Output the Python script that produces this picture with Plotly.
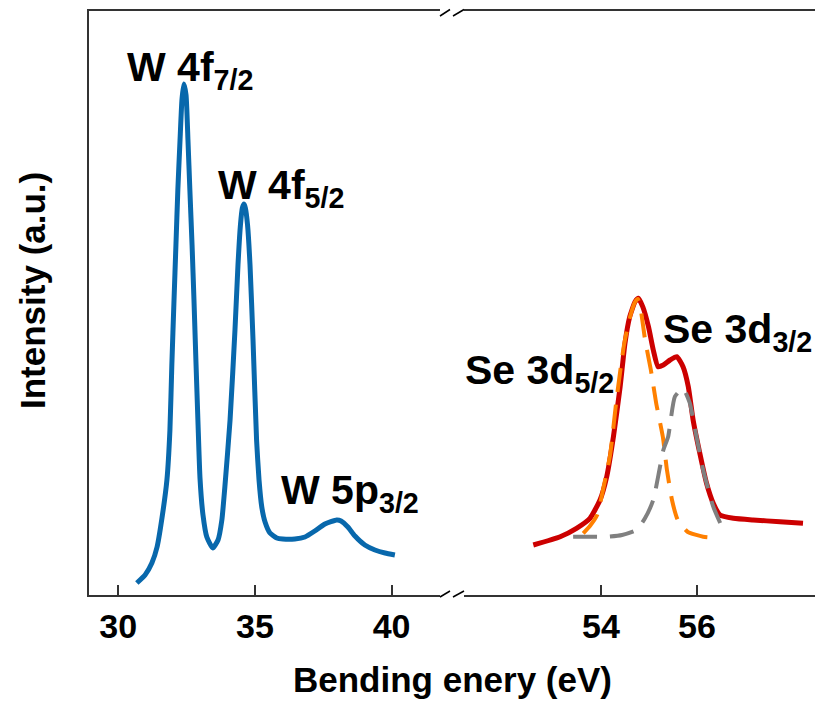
import plotly.graph_objects as go

# W 4f / 5p region (left panel)
w_energy = [30.68, 30.98, 31.23, 31.42, 31.60, 31.78, 31.89, 31.96, 32.04, 32.11,
            32.18, 32.26, 32.33, 32.40, 32.48, 32.55, 32.62, 32.70, 32.77, 32.84,
            32.92, 32.99, 33.10, 33.24, 33.46, 33.65, 33.79, 33.90, 34.09, 34.27,
            34.38, 34.47, 34.54, 34.60, 34.65, 34.73, 34.82, 34.93, 35.06, 35.15,
            35.25, 35.37, 35.55, 35.80, 36.02, 36.46, 36.83, 37.19, 37.56, 37.99,
            38.15, 38.40, 38.66, 39.02, 39.39, 39.76, 40.12]
w_intensity = [2.05, 3.42, 5.48, 8.22, 13.20, 19.69, 28.25, 39.38, 50.51, 59.93,
               69.35, 77.91, 84.76, 87.50, 85.62, 77.91, 69.35, 59.93, 50.51, 40.24,
               29.11, 20.03, 13.70, 9.93, 8.05, 9.42, 12.84, 18.50, 29.97, 45.38,
               56.51, 63.36, 66.27, 66.95, 66.27, 63.36, 56.51, 43.66, 26.54, 19.69,
               15.07, 12.50, 10.62, 9.76, 9.59, 9.59, 9.93, 10.96, 12.16, 12.84,
               12.67, 11.64, 10.10, 8.56, 7.71, 7.19, 6.85]

# Se 3d envelope (right panel)
se_energy = [52.59, 53.15, 53.49, 53.77, 53.98, 54.12, 54.26, 54.40, 54.50, 54.60,
             54.71, 54.78, 54.87, 54.99, 55.09, 55.19, 55.30, 55.44, 55.58, 55.71,
             55.82, 55.92, 56.06, 56.20, 56.34, 56.48, 56.76, 57.17, 57.73, 58.21]
se_intensity = [8.56, 9.98, 11.42, 13.13, 16.27, 20.26, 27.11, 35.67, 43.10, 47.65,
                50.22, 50.80, 49.37, 45.94, 41.95, 39.09, 39.38, 40.24, 40.80, 39.09,
                35.67, 29.97, 24.26, 19.13, 15.70, 13.70, 13.13, 12.84, 12.55, 12.28]

# Se 3d5/2 fitted component
se52_energy = [53.63, 53.77, 53.92, 54.06, 54.19, 54.33, 54.48, 54.60, 54.71, 54.77,
               54.83, 54.92, 55.04, 55.15, 55.29, 55.375, 55.48, 55.60, 55.81, 56.13,
               56.48]
se52_intensity = [10.56, 11.82, 13.70, 18.66, 23.97, 33.90, 42.81, 47.43, 50.17, 50.68,
                  48.80, 43.66, 38.53, 32.88, 27.05, 21.40, 16.27, 12.84, 10.79, 9.98,
                  9.76]

# Se 3d3/2 fitted component
se32_energy = [53.42, 53.77, 54.15, 54.44, 54.74, 54.92, 55.09, 55.30, 55.40, 55.54,
               55.71, 55.85, 55.99, 56.13, 56.34, 56.55]
se32_intensity = [9.98, 9.98, 9.98, 10.27, 11.13, 13.18, 16.27, 24.83, 27.11, 33.96,
                  35.39, 32.88, 27.11, 21.40, 15.12, 11.13]

left_ticks = [30, 35, 40]
right_ticks = [54, 56]

FONT = "Liberation Sans, Arial, sans-serif"
AXIS_COLOR = "#333333"

fig = go.Figure()
fig.add_trace(go.Scatter(x=w_energy, y=w_intensity, mode="lines",
                         line=dict(color="#0868AC", width=5, shape="spline",
                                   smoothing=0.5),
                         xaxis="x", yaxis="y", showlegend=False))
fig.add_trace(go.Scatter(x=se_energy, y=se_intensity, mode="lines",
                         line=dict(color="#CC0000", width=5, shape="spline",
                                   smoothing=0.5),
                         xaxis="x2", yaxis="y", showlegend=False))
fig.add_trace(go.Scatter(x=se52_energy, y=se52_intensity, mode="lines",
                         line=dict(color="#FF8000", width=4, dash="24px,13px",
                                   shape="spline", smoothing=0.5),
                         xaxis="x2", yaxis="y", showlegend=False))
fig.add_trace(go.Scatter(x=se32_energy, y=se32_intensity, mode="lines",
                         line=dict(color="#808080", width=4, dash="24px,13px",
                                   shape="spline", smoothing=0.5),
                         xaxis="x2", yaxis="y", showlegend=False))

W, H = 815, 705
ML, MR, MT, MB = 89, 0, 11, 110
PW, PH = W - ML - MR, H - MT - MB


def px(xp):
    return (xp - ML) / PW


def py(yp):
    return (H - MB - yp) / PH


axis_common = dict(
    showgrid=False, zeroline=False, showline=True, linecolor=AXIS_COLOR,
    linewidth=2, mirror=True, ticks="inside", ticklen=10, tickwidth=1.5,
    tickcolor=AXIS_COLOR,
    tickfont=dict(family=FONT, size=34, color="black", weight="bold"),
)

fig.update_layout(
    width=W, height=H,
    margin=dict(l=ML, r=MR, t=MT, b=MB),
    paper_bgcolor="white", plot_bgcolor="white",
    xaxis=dict(domain=[0, px(440)], range=[28.93, 41.77],
               tickvals=left_ticks, anchor="y", **axis_common),
    xaxis2=dict(domain=[px(464), 1], range=[51.146, 58.46],
                tickvals=right_ticks, anchor="y", **axis_common),
    yaxis=dict(domain=[0, 1], range=[0, 100], showticklabels=False, ticks="",
               showgrid=False, zeroline=False, showline=True,
               linecolor=AXIS_COLOR, linewidth=2, anchor="x"),
)

# axis break marks
for y0, y1 in [(py(16), py(9.5)), (py(597), py(591))]:
    for xa, xb in [(440, 450), (453, 464)]:
        fig.add_shape(type="line", xref="paper", yref="paper",
                      x0=px(xa), x1=px(xb), y0=y0, y1=y1,
                      line=dict(color="black", width=1.5))

label_font = dict(family=FONT, size=41, color="black", weight="bold")
peak_labels = [
    ("W 4f<sub>7/2</sub>", 189.5, 69.5),
    ("W 4f<sub>5/2</sub>", 281, 188),
    ("W 5p<sub>3/2</sub>", 350, 493),
    ("Se 3d<sub>5/2</sub>", 539, 373),
    ("Se 3d<sub>3/2</sub>", 737.5, 332),
]
for text, xc, yc in peak_labels:
    fig.add_annotation(text=text, xref="paper", yref="paper", x=px(xc), y=py(yc),
                       xanchor="center", yanchor="middle", showarrow=False,
                       font=label_font)

title_font = dict(family=FONT, size=35, color="black", weight="bold")
fig.add_annotation(text="Bending enery (eV)", xref="paper", yref="paper",
                   x=px(452), y=py(679), xanchor="center", yanchor="middle",
                   showarrow=False, font=title_font)
fig.add_annotation(text="Intensity (a.u.)", xref="paper", yref="paper",
                   x=px(32), y=py(291), xanchor="center", yanchor="middle",
                   textangle=-90, showarrow=False, font=title_font)

fig.write_html("out.html")
